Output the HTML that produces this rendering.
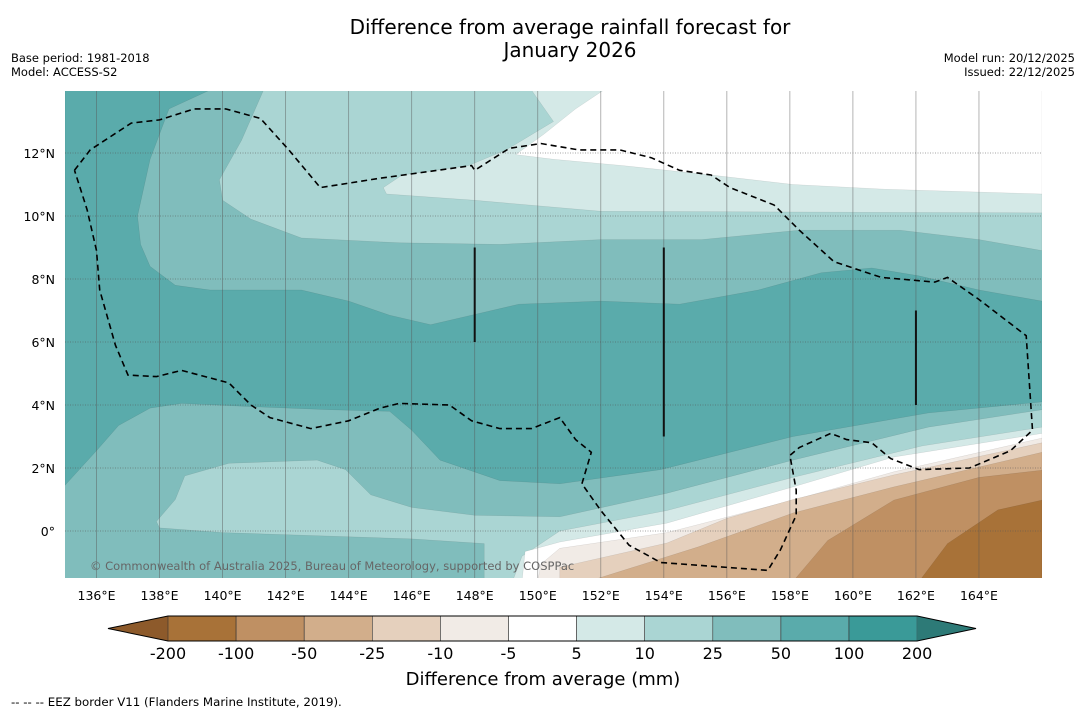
<!DOCTYPE html>
<html><head><meta charset="utf-8">
<style>
body{margin:0;background:#fff;}
svg{display:block;font-family:"DejaVu Sans","Liberation Sans",sans-serif;}
</style></head>
<body>
<svg id="chart" width="1085" height="713" viewBox="0 0 1085 713">
<text x="570" y="34" text-anchor="middle" font-size="20">Difference from average rainfall forecast for</text>
<text x="570" y="57" text-anchor="middle" font-size="20">January 2026</text>
<text x="11" y="62" font-size="11.5">Base period: 1981-2018</text>
<text x="11" y="76" font-size="11.5">Model: ACCESS-S2</text>
<text x="1075" y="62" font-size="11.5" text-anchor="end">Model run: 20/12/2025</text>
<text x="1075" y="76" font-size="11.5" text-anchor="end">Issued: 22/12/2025</text>
<defs><clipPath id="clipMap"><rect x="65" y="91" width="977" height="487"/></clipPath></defs>
<g id="map" clip-path="url(#clipMap)"></g>
<g id="grid"></g>
<g id="overlay" clip-path="url(#clipMap)"></g>
<text x="90" y="570" font-size="11.5" fill="#666">© Commonwealth of Australia 2025, Bureau of Meteorology, supported by COSPPac</text>
<g id="axes"></g>
<g id="cbar"></g>
<text x="543" y="685" text-anchor="middle" font-size="18">Difference from average (mm)</text>
<text x="11" y="706" font-size="11.8">--  --  -- EEZ border V11 (Flanders Marine Institute, 2019).</text>
</svg>
<script>
const lonTicks=[136,138,140,142,144,146,148,150,152,154,156,158,160,162,164];
const latTicks=[0,2,4,6,8,10,12];
const levelLabels=["-200","-100","-50","-25","-10","-5","5","10","25","50","100","200"];
const levelColors=["#a87238","#bf9063","#d2ae8b","#e5d0bd","#f1ebe6","#ffffff","#d4e9e7","#aad5d3","#80bdbc","#5aabab","#3a9a98"];
const extendColors=["#8d5a2b","#2d7a77"];
const baseColor="#80bdbc";
const contourColors=["#5aabab","#aad5d3","#d4e9e7","#ffffff","#aad5d3","#d4e9e7","#ffffff","#f1ebe6","#e5d0bd","#d2ae8b","#bf9063","#a87238"];
const contour50=[[135,14],[139.6,14],[138.3,13.4],[137.7,11.8],[137.3,10],[137.4,9.1],[137.7,8.4],[138.5,7.8],[139.6,7.65],[142.5,7.65],[144,7.3],[145.3,6.85],[146.6,6.55],[147.9,6.85],[149.4,7.2],[152,7.3],[154.5,7.2],[157,7.65],[159,8.2],[160.6,8.35],[162.1,8.1],[164,7.65],[166,7.3],[166,4.1],[162.4,3.75],[158.1,3],[153.9,1.95],[150.7,1.5],[148.8,1.6],[146.9,2.25],[146,3.2],[145.3,3.8],[143.4,3.85],[140.9,3.95],[138.7,4.05],[137.7,3.9],[136.7,3.35],[136,2.55],[135,1.45]];
const contourTop10=[[141.3,14],[166,14],[166,8.9],[164,9.25],[161.5,9.55],[158.3,9.55],[155.2,9.25],[152,9.25],[148.8,9.1],[145.6,9.15],[142.5,9.3],[140.9,9.9],[140,10.5],[139.9,11.15],[140.6,12.4]];
const contourTop5=[[149.8,14],[166,14],[166,10.1],[152,10.15],[148,10.5],[145.2,10.7],[145.1,10.9],[145.7,11.3],[147.8,11.6],[149,12.1],[150.5,13]];
const contourTopWhite=[[152.1,14],[166,14],[166,10.7],[161,10.85],[158.1,11],[155.5,11.3],[152.7,11.6],[150.5,11.8],[149.3,11.95],[150.2,12.6],[151.2,13.4]];
const contourBot10=[[137.9,0.3],[138.5,1],[138.8,1.75],[140.2,2.15],[143,2.25],[143.9,1.95],[144.7,1.15],[146,0.75],[148,0.5],[150.7,0.45],[154.1,1.2],[158.1,2.25],[162.4,3.3],[166,3.85],[166,-1.6],[148.3,-1.6],[148.3,-0.4],[146,-0.25],[143,-0.15],[140,-0.05],[138,0.1]];
const contourBot5=[[149.2,-1.6],[149.5,-0.8],[150.7,0],[154.1,0.65],[158.1,1.7],[162.2,2.7],[166,3.3],[166,-1.6]];
const contourBotWhite=[[149.5,-1.6],[149.6,-0.65],[150.7,-0.35],[154.1,0.25],[158.1,1.4],[161.3,2.35],[166,3.1],[166,-1.6]];
const contourNeg5=[[150,-1.6],[150.1,-1.05],[150.7,-0.55],[154.1,-0.05],[158.1,0.98],[161.3,1.88],[166,2.95],[166,-1.6]];
const contourNeg10=[[150.7,-1.6],[150.7,-1.15],[154.1,-0.38],[156,0.4],[158.1,1.0],[161.3,1.78],[166,2.8],[166,-1.6]];
const contourNeg25=[[151.6,-1.6],[155.1,-0.5],[158.1,0.57],[161.3,1.4],[166,2.5],[166,-1.6]];
const contourNeg50=[[158.1,-1.6],[159.2,-0.3],[161.3,0.98],[164,1.7],[166,1.93],[166,-1.6]];
const contourNeg100=[[162.1,-1.6],[163,-0.4],[164.6,0.67],[166,0.98],[166,-1.6]];
const eezBorder=[[135.3,11.45],[135.8,12.1],[137.1,12.95],[138,13.05],[139.1,13.4],[140.1,13.4],[141.2,13.1],[142.1,12.1],[143.1,10.9],[145,11.2],[147.9,11.6],[148,11.45],[149.1,12.15],[150.1,12.3],[151.3,12.1],[152.6,12.1],[153.6,11.85],[154.5,11.45],[155.5,11.3],[156.1,10.9],[157.5,10.35],[158.3,9.55],[159.4,8.55],[160.9,8.05],[162.6,7.9],[163,8.05],[164,7.35],[165.5,6.2],[165.7,3.2],[165,2.55],[163.7,2],[162.1,1.95],[161.2,2.3],[160.6,2.8],[159.8,2.9],[159.3,3.1],[158.3,2.65],[158,2.4],[158.2,1.3],[158.2,0.5],[157.7,-0.6],[157.3,-1.25],[153.9,-1],[152.9,-0.45],[152,0.65],[151.4,1.5],[151.7,2.5],[151.2,2.9],[150.7,3.6],[149.8,3.25],[148.8,3.25],[147.9,3.5],[147.2,4],[145.6,4.05],[145,3.9],[144,3.5],[142.8,3.25],[141.5,3.6],[140.9,4],[140.2,4.7],[138.7,5.1],[137.9,4.9],[137,4.95],[136.6,5.9],[136.1,7.65],[136,8.9],[135.7,10.2],[135.3,11.45]];
const eezSegments=[[148,6,9],[154,3,9],[162,4,7]];

const NS="http://www.w3.org/2000/svg";
const X0=65,X1=1042,LON0=135,LON1=166,Y0=531,PXDEG=31.5;
function px(lon){return X0+(lon-LON0)*(X1-X0)/(LON1-LON0);}
function py(lat){return Y0-lat*PXDEG;}
function mk(tag,parent,attrs){const e=document.createElementNS(NS,tag);for(const k in attrs)e.setAttribute(k,attrs[k]);parent.appendChild(e);return e;}
const map=document.getElementById('map');
const bg=mk('rect',map,{x:65,y:91,width:977,height:487,fill:baseColor});


const contours=[contour50,contourTop10,contourTop5,contourTopWhite,contourBot10,contourBot5,contourBotWhite,contourNeg5,contourNeg10,contourNeg25,contourNeg50,contourNeg100];
contours.forEach((c,i)=>{
  const p=mk('polygon',map,{points:c.map(d=>px(d[0]).toFixed(1)+','+py(d[1]).toFixed(1)).join(' '),fill:contourColors[i],stroke:'rgba(0,0,0,0.12)','stroke-width':0.5,'stroke-linejoin':'round'});
  
  
});
const grid=document.getElementById('grid');
lonTicks.forEach(l=>{
  const ln=mk('line',grid,{x1:px(l),x2:px(l),y1:91,y2:578,stroke:'#555','stroke-opacity':0.55,'stroke-width':0.8});
  
  
});
latTicks.forEach(l=>{
  const ln=mk('line',grid,{x1:65,x2:1042,y1:py(l),y2:py(l),stroke:'#555','stroke-opacity':0.7,'stroke-width':0.8,'stroke-dasharray':'1,1.5'});
  
  
});
const ov=document.getElementById('overlay');
const eez=mk('polyline',ov,{points:eezBorder.map(d=>px(d[0]).toFixed(1)+','+py(d[1]).toFixed(1)).join(' '),fill:'none',stroke:'#000','stroke-width':1.6,'stroke-dasharray':'6,4'});


eezSegments.forEach(s=>{
  const l=mk('line',ov,{x1:px(s[0]),x2:px(s[0]),y1:py(s[2]),y2:py(s[1]),stroke:'#111','stroke-width':2});
  
  
});
const axes=document.getElementById('axes');
lonTicks.forEach(l=>{
  const t=mk('text',axes,{x:px(l),y:600,'text-anchor':'middle','font-size':12.5});
  t.textContent=l+'°E';
  
  
});
latTicks.forEach(l=>{
  const t=mk('text',axes,{x:55,y:py(l)+5,'text-anchor':'end','font-size':12.5});
  t.textContent=l===0?'0°':l+'°N';
  
  
});
const cb=document.getElementById('cbar');
const CB0=168,CBW=68.1,CBY=616,CBH=25;
const lt=mk('polygon',cb,{points:`108,${CBY+CBH/2} ${CB0},${CBY} ${CB0},${CBY+CBH}`,fill:extendColors[0]});


levelColors.forEach((c,i)=>{
  const r=mk('rect',cb,{x:CB0+i*CBW,y:CBY,width:CBW,height:CBH,fill:c,stroke:'#333','stroke-width':0.6});
  
  
});
const xe=CB0+levelColors.length*CBW;
const rt=mk('polygon',cb,{points:`${xe},${CBY} 976,${CBY+CBH/2} ${xe},${CBY+CBH}`,fill:extendColors[1]});


const fr=mk('polygon',cb,{points:`108,${CBY+CBH/2} ${CB0},${CBY} ${xe},${CBY} 976,${CBY+CBH/2} ${xe},${CBY+CBH} ${CB0},${CBY+CBH}`,fill:'none',stroke:'#000','stroke-width':1});


levelLabels.forEach((s,i)=>{
  const t=mk('text',cb,{x:CB0+i*CBW,y:659,'text-anchor':'middle','font-size':16});
  t.textContent=s;
  
  
});
</script>
</body></html>
